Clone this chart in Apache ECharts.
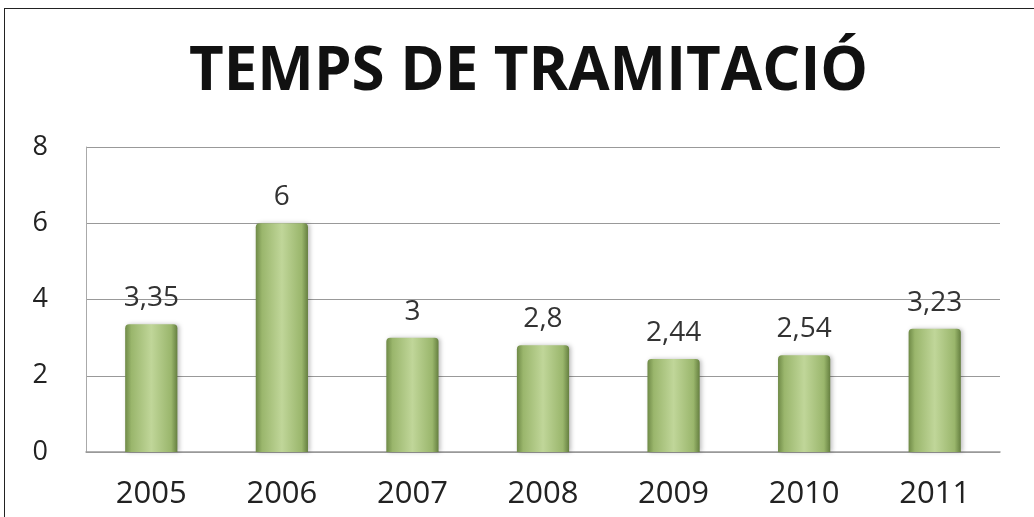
<!DOCTYPE html>
<html>
<head>
<meta charset="utf-8">
<script src="https://cdn.jsdelivr.net/npm/echarts@6/dist/echarts.min.js"></script>
<style>
  html, body { margin: 0; padding: 0; background: #fff; }
  #frame { position: absolute; left: 4px; top: 8px; width: 1040px; height: 520px; border: 1px solid #222; box-sizing: border-box; }
  #chart { position: absolute; left: 0; top: 0; width: 1034px; height: 517px; }
</style>
</head>
<body>
<div id="frame"></div>
<div id="chart"></div>
<script>
const years = ['2005', '2006', '2007', '2008', '2009', '2010', '2011'];
const temps = [3.35, 6, 3, 2.8, 2.44, 2.54, 3.23];
const yTicks = [0, 2, 4, 6, 8];

const chart = echarts.init(document.getElementById('chart'));

const barFill = new echarts.graphic.LinearGradient(0, 0, 1, 0, [
  { offset: 0, color: '#6f8a47' },
  { offset: 0.12, color: '#9ab66c' },
  { offset: 0.5, color: '#c0d699' },
  { offset: 0.88, color: '#9ab66c' },
  { offset: 1, color: '#657f40' },
]);

chart.setOption({
  animation: false,
  title: {
    text: 'TEMPS DE TRAMITACIÓ',
    left: 184,
    top: 38,
    textStyle: {
      fontFamily: 'Open Sans',
      fontWeight: 'bold',
      fontSize: 60,
      color: '#111',
    },
  },
  grid: {
    left: 86,
    right: 34,
    top: 147,
    bottom: 65,
  },
  xAxis: {
    type: 'category',
    data: years,
    axisTick: { show: false },
    axisLine: { lineStyle: { color: '#999', width: 1.5 } },
    axisLabel: {
      margin: 27,
      fontFamily: 'Open Sans',
      fontSize: 31,
      color: '#222',
    },
  },
  yAxis: {
    type: 'value',
    min: yTicks[0],
    max: yTicks[yTicks.length - 1],
    interval: 2,
    axisLine: { show: true, lineStyle: { color: '#aaa', width: 1 } },
    axisTick: { show: false },
    splitLine: { lineStyle: { color: '#999', width: 1.2 } },
    axisLabel: {
      margin: 38,
      fontFamily: 'Open Sans',
      fontSize: 27,
      color: '#222',
    },
  },
  series: [
    {
      type: 'bar',
      data: temps,
      barWidth: '40%',
      itemStyle: {
        color: barFill,
        borderRadius: [4, 4, 0, 0],
        shadowColor: 'rgba(0,0,0,0.25)',
        shadowBlur: 4,
        shadowOffsetX: 2,
      },
      label: {
        show: true,
        position: 'top',
        distance: 12,
        fontFamily: 'Open Sans',
        fontSize: 28,
        color: '#333',
        formatter: (p) => String(p.value).replace('.', ','),
      },
    },
  ],
});

window.addEventListener('resize', function () {
  chart.resize();
});
</script>
</body>
</html>
